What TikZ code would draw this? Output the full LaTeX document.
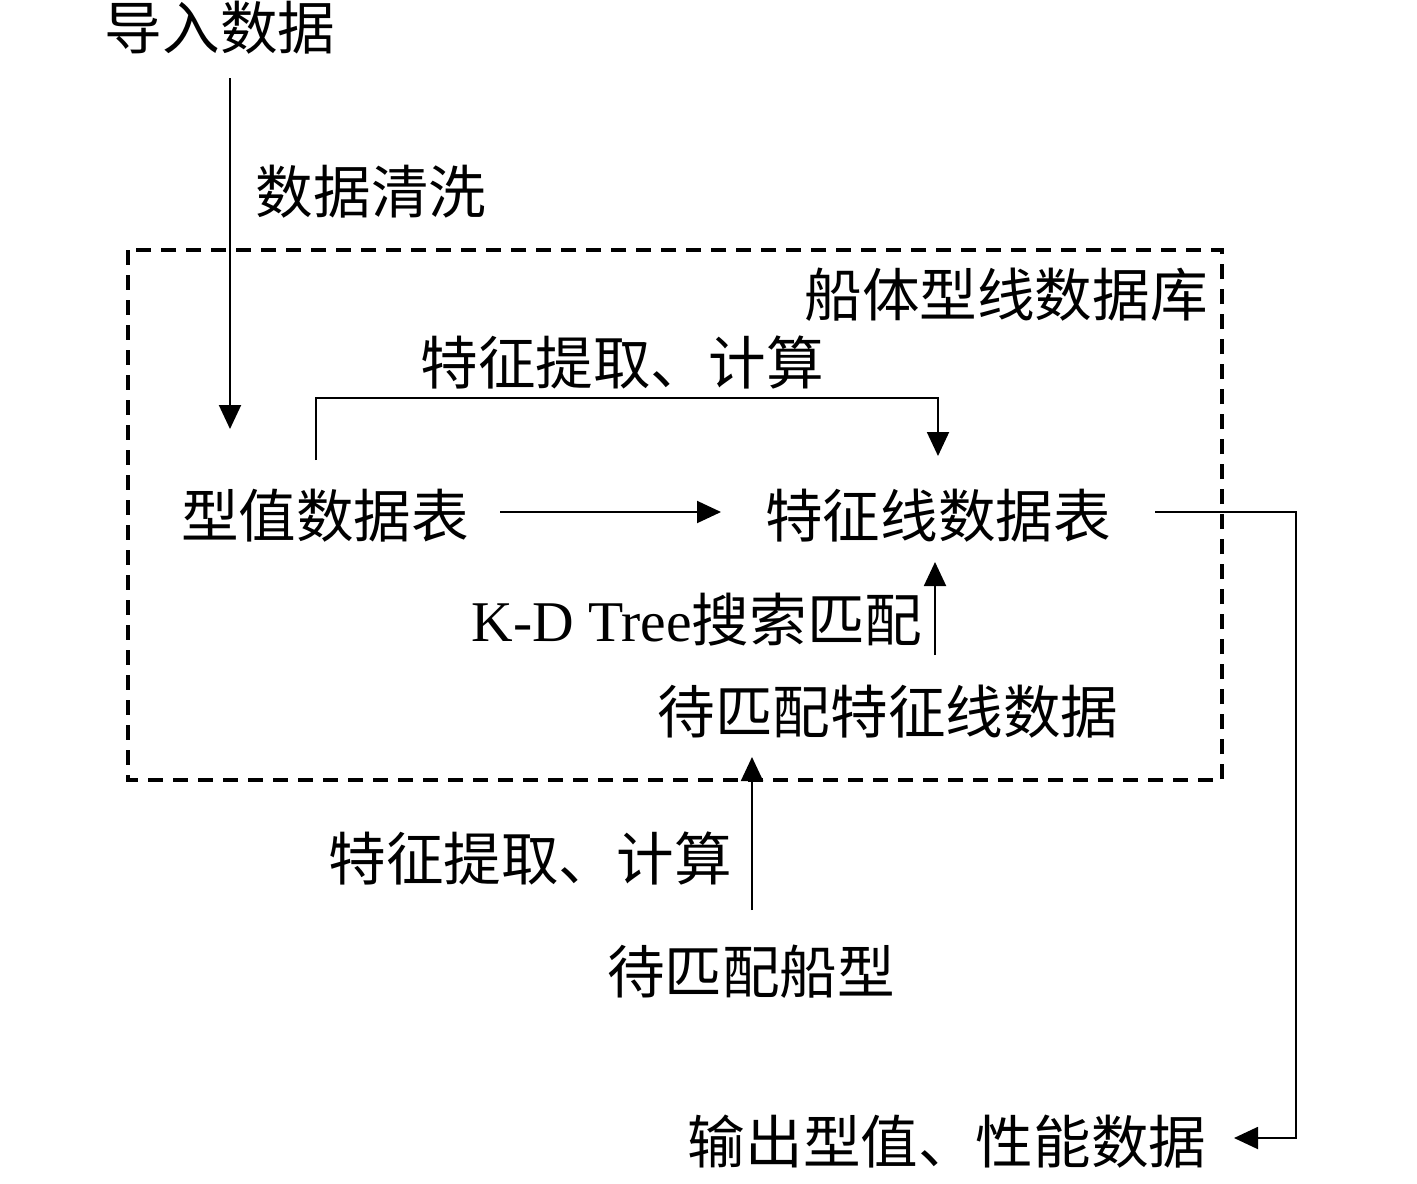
\documentclass[tikz,border=0pt]{standalone}
\usepackage{fontspec}
\setmainfont{Liberation Serif}
\newfontfamily\cjk{Noto Sans CJK SC}
\usetikzlibrary{arrows.meta}
\begin{document}
\begin{tikzpicture}[x=0.5pt,y=-0.5pt,
  lbl/.style={inner sep=0pt, font=\fontsize{28.8}{34}\selectfont\cjk},
  conn/.style={line width=1pt, -{Triangle[width=11pt,length=12pt]}},
  plainline/.style={line width=1pt},
  dbbox/.style={line width=1.6pt, dash pattern=on 7.5pt off 5pt}]
\useasboundingbox (0,0) rectangle (1417,1183);
% database frame
\draw[dbbox] (128,250) rectangle (1222,780);
% labels
\node[lbl] (import) at (220,28) {导入数据};
\node[lbl] (clean) at (371,192) {数据清洗};
\node[lbl] (db) at (1006,295) {船体型线数据库};
\node[lbl] (feat1) at (622,362) {特征提取、计算};
\node[lbl] (xzb) at (325,516) {型值数据表};
\node[lbl] (tzx) at (938,516) {特征线数据表};
\node[lbl] (kd) at (697,620) {{\rmfamily K-D Tree}搜索匹配};
\node[lbl] (dpp) at (888,712) {待匹配特征线数据};
\node[lbl] (feat2) at (530,858) {特征提取、计算};
\node[lbl] (dppcx) at (751,972) {待匹配船型};
\node[lbl] (out) at (947,1142) {输出型值、性能数据};
% connector end points
\coordinate (a1) at (230,78);
\coordinate (a2) at (230,429);
\coordinate (b1) at (316,460);
\coordinate (b2) at (938,456);
\coordinate (c1) at (500,512);
\coordinate (c2) at (721,512);
\coordinate (d1) at (1155,512);
\coordinate (d2) at (1234,1138);
\coordinate (e1) at (935,655);
\coordinate (e2) at (935,562);
\coordinate (f1) at (752,910);
\coordinate (f2) at (752,757);
% connectors
\draw[conn] (a1) -- (a2);
\draw[conn] (b1) -- (316,398) -- (938,398) -- (b2);
\draw[conn] (c1) -- (c2);
\draw[conn] (d1) -- (1296,512) -- (1296,1138) -- (d2);
\draw[conn] (e1) -- (e2);
\draw[conn] (f1) -- (f2);
\end{tikzpicture}
\end{document}
